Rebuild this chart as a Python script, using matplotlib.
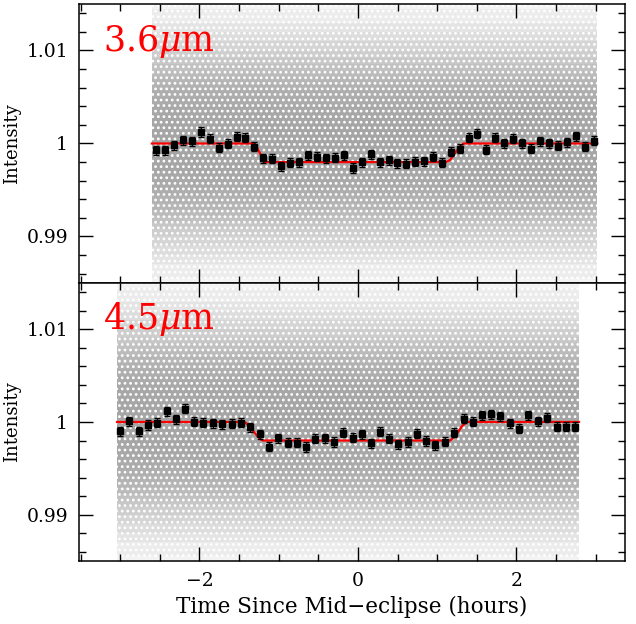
import matplotlib
matplotlib.use('Agg')
import matplotlib.pyplot as plt
import numpy as np
from matplotlib.ticker import MultipleLocator

plt.rcParams['font.family'] = 'DejaVu Serif'
plt.rcParams['mathtext.fontset'] = 'dejavuserif'
plt.rcParams['hatch.linewidth'] = 1.2

# binned light curve, 3.6 micron
t36 = [-2.548, -2.430, -2.316, -2.203, -2.092, -1.975, -1.865, -1.756, -1.642, -1.532,
       -1.422, -1.308, -1.199, -1.080, -0.966, -0.857, -0.747, -0.629, -0.519, -0.405,
       -0.291, -0.177, -0.059, 0.054, 0.165, 0.278, 0.389, 0.497, 0.608, 0.725,
       0.835, 0.946, 1.059, 1.173, 1.291, 1.396, 1.503, 1.620, 1.734, 1.848,
       1.958, 2.072, 2.186, 2.295, 2.409, 2.519, 2.633, 2.747, 2.865, 2.978]
f36 = [0.99928, 0.99928, 0.99982, 1.00035, 1.00025, 1.00122, 1.00051, 0.99954, 0.99997, 1.00072,
       1.00061, 0.99965, 0.99839, 0.99835, 0.99756, 0.99792, 0.99799, 0.99871, 0.99857, 0.99839,
       0.99846, 0.99874, 0.99735, 0.99799, 0.99882, 0.99799, 0.99820, 0.99785, 0.99782, 0.99803,
       0.99810, 0.99857, 0.99792, 0.99911, 0.99946, 1.00061, 1.00104, 0.99935, 1.00061, 1.00000,
       1.00051, 1.00000, 0.99943, 1.00025, 1.00000, 0.99978, 1.00014, 1.00078, 0.99965, 1.00032]

# binned light curve, 4.5 micron
t45 = [-3.004, -2.886, -2.768, -2.649, -2.532, -2.414, -2.295, -2.177, -2.063, -1.949,
       -1.832, -1.713, -1.595, -1.477, -1.358, -1.241, -1.123, -1.009, -0.886, -0.772,
       -0.658, -0.544, -0.418, -0.304, -0.186, -0.067, 0.047, 0.165, 0.278, 0.392,
       0.510, 0.629, 0.743, 0.861, 0.978, 1.101, 1.215, 1.333, 1.447, 1.566,
       1.680, 1.797, 1.915, 2.034, 2.152, 2.270, 2.389, 2.506, 2.620, 2.738]
f45 = [0.99901, 1.00009, 0.99901, 0.99966, 0.99991, 1.00116, 1.00027, 1.00145, 1.00002, 0.99991,
       0.99984, 0.99973, 0.99981, 0.99991, 0.99944, 0.99866, 0.99733, 0.99823, 0.99776, 0.99776,
       0.99729, 0.99819, 0.99823, 0.99783, 0.99884, 0.99830, 0.99866, 0.99769, 0.99895, 0.99819,
       0.99758, 0.99783, 0.99873, 0.99794, 0.99747, 0.99787, 0.99884, 1.00034, 1.00002, 1.00070,
       1.00081, 1.00062, 0.99984, 0.99927, 1.00073, 1.00009, 1.00045, 0.99948, 0.99948, 0.99948]

err = 0.0005

# eclipse model (red line)
m36_t = [-2.60, -1.30, -1.26, -1.22, -1.18, 1.11, 1.165, 1.228, 1.291, 1.333, 3.02]
m36_f = [1.0, 1.0, 0.99935, 0.99865, 0.9980, 0.9980, 0.99824, 0.9990, 0.99971, 1.0, 1.0]
m45_t = [-3.04, -1.43, -1.367, -1.304, -1.241, -1.199, 1.165, 1.206, 1.270, 1.313, 1.376, 2.79]
m45_f = [1.0, 1.0, 0.99955, 0.99884, 0.99819, 0.9980, 0.9980, 0.9983, 0.9990, 0.99955, 1.0, 1.0]

# unbinned photometry cloud, shown as shaded spread about the baseline
cloud_half = [0.0160, 0.0145, 0.0130, 0.0120, 0.0110, 0.0100, 0.0092, 0.0085, 0.0078,
              0.0071, 0.0064, 0.0057, 0.0050, 0.0042, 0.0034, 0.0025, 0.0015]
cloud_grey = ['#f3f3f3', '#ececec', '#e4e4e4', '#dddddd', '#d5d5d5', '#cecece', '#c7c7c7',
              '#c1c1c1', '#bbbbbb', '#b6b6b6', '#b2b2b2', '#aeaeae', '#ababab', '#a9a9a9',
              '#a7a7a7', '#a6a6a6', '#a5a5a5']

panels = [
    (t36, f36, m36_t, m36_f, '3.6$\\mu$m'),
    (t45, f45, m45_t, m45_f, '4.5$\\mu$m'),
]

fig = plt.figure(figsize=(6.36, 6.24), dpi=100)
ax1 = fig.add_axes([0.1242, 0.5465, 0.8585, 0.4471])
ax2 = fig.add_axes([0.1242, 0.1010, 0.8585, 0.4455], sharex=ax1)

for ax, (t, f, mt, mf, lab) in zip([ax1, ax2], panels):
    span = [mt[0], mt[-1]]
    base = mf[0]
    for h, c in zip(cloud_half, cloud_grey):
        ax.fill_between(span, base - h, base + h, color=c, lw=0, zorder=1)
    # speckle texture over the cloud
    ax.fill_between(span, base - cloud_half[0], base + cloud_half[0], facecolor='none',
                    edgecolor='white', hatch='...', lw=0, zorder=1.5)
    ax.plot(mt, mf, color='red', lw=1.6, zorder=2)
    ax.errorbar(t, f, yerr=err, fmt='s', color='black', ms=5, capsize=2.5,
                elinewidth=1, capthick=1, zorder=3)
    ax.text(0.044, 0.833, lab, transform=ax.transAxes, color='red', fontsize=25,
            va='baseline', ha='left')
    ax.set_ylim(0.985, 1.015)
    ax.set_xlim(-3.52, 3.37)
    ax.yaxis.set_major_locator(MultipleLocator(0.01))
    ax.yaxis.set_minor_locator(MultipleLocator(0.002))
    ax.xaxis.set_major_locator(MultipleLocator(2))
    ax.xaxis.set_minor_locator(MultipleLocator(0.5))
    ax.yaxis.set_major_formatter(plt.FuncFormatter(lambda v, p: '%g' % round(v, 4)))
    ax.tick_params(which='both', direction='in', top=True, right=True, labelsize=13.5, width=1)
    ax.tick_params(which='major', length=10, pad=8)
    ax.tick_params(which='minor', length=5)
    for s in ax.spines.values():
        s.set_linewidth(1.1)
    ax.set_ylabel('Intensity', fontsize=13)
    ax.yaxis.set_label_coords(-0.106, 0.5)

ax1.tick_params(labelbottom=False)
ax2.set_xlabel('Time Since Mid\u2212eclipse (hours)', fontsize=15.5)

fig.savefig('out.png', dpi=100)
